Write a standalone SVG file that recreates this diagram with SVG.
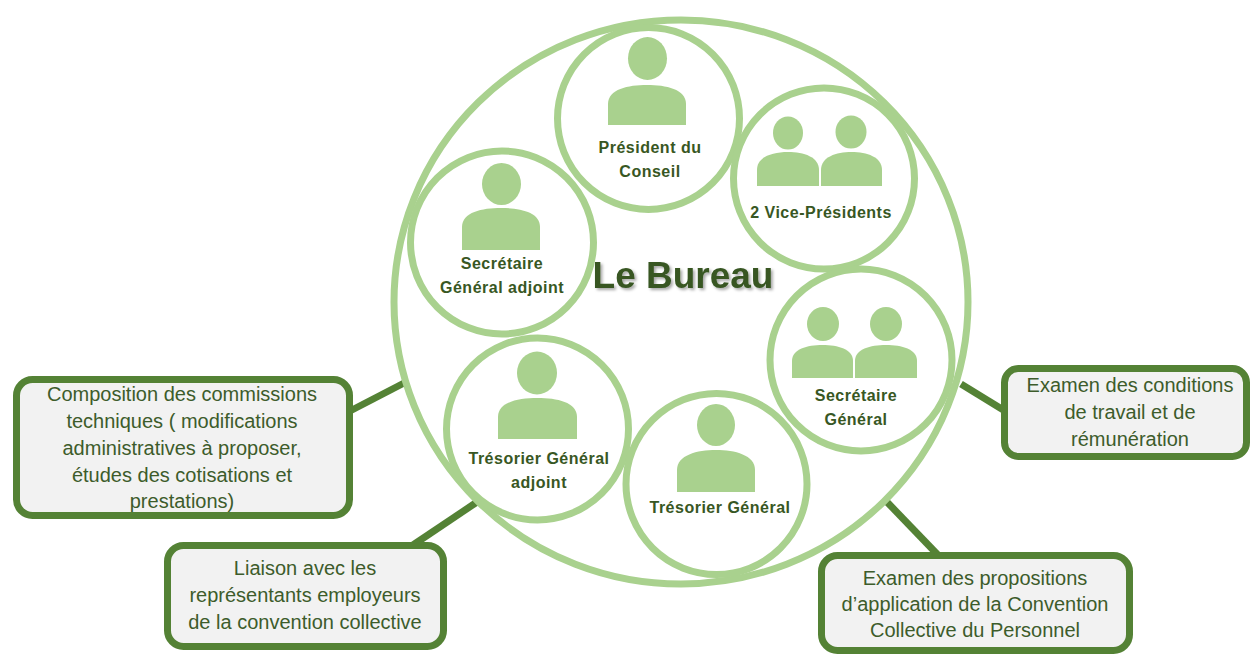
<svg xmlns="http://www.w3.org/2000/svg" width="1250" height="655" viewBox="0 0 1250 655">
<defs>
<style>
.ring{fill:#FFFFFF;stroke:#A9D18E;stroke-width:7}
.big{fill:none;stroke:#A9D18E;stroke-width:7}
.icon{fill:#A9D18E}
.lbl{font-family:"Liberation Sans",Arial,sans-serif;font-weight:bold;font-size:16px;letter-spacing:0.5px;fill:#385723;text-anchor:middle}
.box{fill:#F2F2F2;stroke:#548235;stroke-width:7}
.btxt{font-family:"Liberation Sans",Arial,sans-serif;font-size:20px;fill:#3D5C2B;text-anchor:middle}
.conn{stroke:#548235;stroke-width:7;fill:none}
</style>
<filter id="sh" x="-10%" y="-20%" width="130%" height="150%">
<feDropShadow dx="2" dy="2" stdDeviation="1.5" flood-color="#000000" flood-opacity="0.35"/>
</filter>
</defs>
<rect width="1250" height="655" fill="#FFFFFF"/>
<g id="connectors">
<line class="conn" x1="350" y1="411" x2="406" y2="382"/>
<line class="conn" x1="413" y1="545" x2="480" y2="500"/>
<line class="conn" x1="961" y1="384" x2="1005" y2="411"/>
<line class="conn" x1="887" y1="502" x2="938" y2="555"/>
</g>
<g id="bureau">
<ellipse class="big" cx="681" cy="302" rx="287" ry="282"/>
<text x="683" y="288" font-family="'Liberation Sans',Arial,sans-serif" font-weight="bold" font-size="37" fill="#375623" text-anchor="middle" filter="url(#sh)">Le Bureau</text>
</g>
<g id="president">
<circle class="ring" cx="648.5" cy="118.5" r="91"/>
<ellipse class="icon" cx="647.5" cy="58.5" rx="19.5" ry="21.5"/>
<path class="icon" d="M608,125 V104 C608,89 628,85 647,85 C666,85 686,89 686,104 V125 Z"/>
<text class="lbl" x="650" y="153">Président du</text>
<text class="lbl" x="650" y="177">Conseil</text>
</g>
<g id="vice-presidents">
<circle class="ring" cx="824" cy="178.5" r="90.5"/>
<ellipse class="icon" cx="788" cy="133" rx="15" ry="16.5"/>
<ellipse class="icon" cx="851" cy="132" rx="15.5" ry="16.5"/>
<path class="icon" d="M757,186 V170 C757,157 772,152 788,152 C804,152 819,157 819,170 V186 Z"/>
<path class="icon" d="M821,186 V170 C821,157 836,152 851.5,152 C867,152 882,157 882,170 V186 Z"/>
<text class="lbl" x="821" y="218">2 Vice-Présidents</text>
</g>
<g id="secretaire-general-adjoint">
<circle class="ring" cx="502" cy="242.5" r="91.5"/>
<ellipse class="icon" cx="501.5" cy="184" rx="19.5" ry="21"/>
<path class="icon" d="M462,250 V227 C462,212 482,208 501,208 C520,208 540,212 540,227 V250 Z"/>
<text class="lbl" x="502" y="269">Secrétaire</text>
<text class="lbl" x="502" y="293">Général adjoint</text>
</g>
<g id="secretaire-general">
<circle class="ring" cx="861" cy="360" r="91"/>
<ellipse class="icon" cx="823" cy="324" rx="16" ry="17"/>
<ellipse class="icon" cx="886" cy="324" rx="16" ry="17"/>
<path class="icon" d="M792,378 V361 C792,349 807,345 822.5,345 C838,345 853,349 853,361 V378 Z"/>
<path class="icon" d="M855,378 V361 C855,349 870,345 886,345 C902,345 917,349 917,361 V378 Z"/>
<text class="lbl" x="856" y="401">Secrétaire</text>
<text class="lbl" x="856" y="425">Général</text>
</g>
<g id="tresorier-general-adjoint">
<circle class="ring" cx="537.5" cy="429" r="91"/>
<ellipse class="icon" cx="537" cy="373" rx="20" ry="21.5"/>
<path class="icon" d="M498,439 V417 C498,402 518,398 537.5,398 C557,398 577,402 577,417 V439 Z"/>
<text class="lbl" x="539" y="464">Trésorier Général</text>
<text class="lbl" x="539" y="488">adjoint</text>
</g>
<g id="tresorier-general">
<circle class="ring" cx="716.5" cy="484" r="90.5"/>
<ellipse class="icon" cx="716" cy="425" rx="19" ry="21"/>
<path class="icon" d="M677,492 V470 C677,455 697,450 716,450 C735,450 755,455 755,470 V492 Z"/>
<text class="lbl" x="720" y="513">Trésorier Général</text>
</g>
<g id="box-composition">
<rect class="box" x="16.5" y="379.5" width="333" height="136" rx="16"/>
<text class="btxt" x="182" y="401">Composition des commissions</text>
<text class="btxt" x="182" y="428">techniques ( modifications</text>
<text class="btxt" x="182" y="455">administratives à proposer,</text>
<text class="btxt" x="182" y="482">études des cotisations et</text>
<text class="btxt" x="182" y="508">prestations)</text>
</g>
<g id="box-liaison">
<rect class="box" x="167.5" y="545.5" width="276" height="101" rx="16"/>
<text class="btxt" x="305" y="575">Liaison avec les</text>
<text class="btxt" x="305" y="602">représentants employeurs</text>
<text class="btxt" x="305" y="629">de la convention collective</text>
</g>
<g id="box-conditions">
<rect class="box" x="1004.5" y="368.5" width="242" height="88" rx="14"/>
<text class="btxt" x="1130" y="392">Examen des conditions</text>
<text class="btxt" x="1130" y="419">de travail et de</text>
<text class="btxt" x="1130" y="446">rémunération</text>
</g>
<g id="box-propositions">
<rect class="box" x="821.5" y="555.5" width="308" height="95" rx="16"/>
<text class="btxt" x="975" y="585">Examen des propositions</text>
<text class="btxt" x="975" y="611">d’application de la Convention</text>
<text class="btxt" x="975" y="637">Collective du Personnel</text>
</g>
</svg>
